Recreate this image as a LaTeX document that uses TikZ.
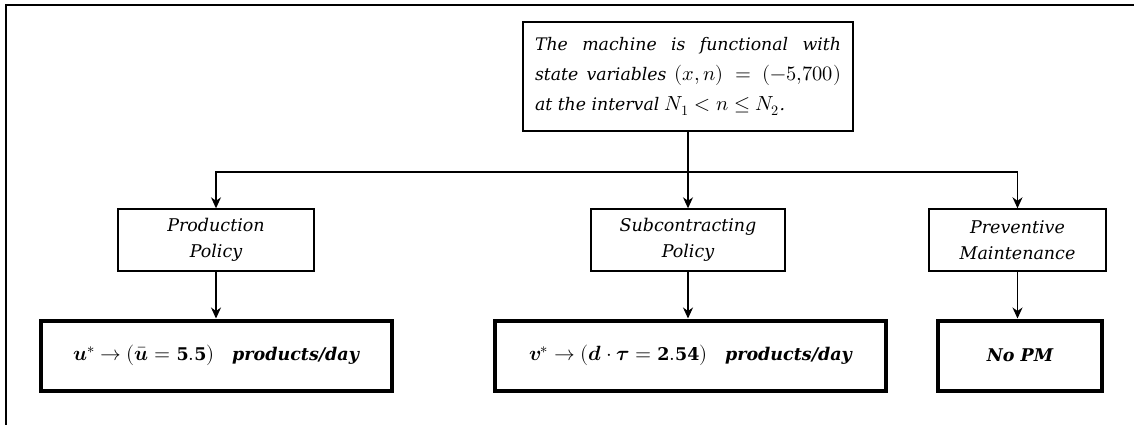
\documentclass[tikz,border=0pt]{standalone}
\usepackage{fontspec}
\usepackage{unicode-math}
\setmainfont{DejaVu Serif}
\setmathfont{Latin Modern Math}[Scale=1.18]
\usetikzlibrary{arrows.meta}
\begin{document}
\begin{tikzpicture}[x=1pt,y=-1pt,
  conn/.style={line width=1.3pt,-{Stealth[length=11pt,width=10pt,inset=3.5pt]}},
  topbox/.style={draw,line width=2.6pt,minimum width=330pt,minimum height=109pt,inner sep=0pt,font=\fontsize{17}{30}\selectfont\itshape},
  polbox/.style={draw,line width=1.4pt,minimum height=62pt,inner sep=0pt,align=center,font=\fontsize{17.5}{26}\selectfont\itshape},
  resbox/.style={draw,line width=4pt,minimum height=70pt,inner sep=0pt,font=\fontsize{17.5}{24}\selectfont\bfseries\itshape}]
\useasboundingbox (0,0) rectangle (1134,425);
\draw[line width=2pt] (6,425) -- (6,5) -- (1134,5);
\node[topbox] (top) at (688,76.5) {\parbox{306pt}{\fontsize{17.3}{30}\selectfont\itshape The machine is functional with\linebreak state variables $(x,n)=(-5{,}700)$\linebreak at the interval $N_1<n\le N_2$.}};
\node[polbox,minimum width=196pt] (prod) at (216,240) {Production\\Policy};
\node[polbox,minimum width=194pt] (sub) at (688,240) {Subcontracting\\Policy};
\node[polbox,minimum width=177pt] (prev) at (1017.5,240) {Preventive\\Maintenance};
\node[resbox,minimum width=351pt] (r1) at (216,355.5) {$\mathbfit{u}^{*}\rightarrow(\bar{\mathbfit{u}}=\mathbf{5.5})$\quad products/day};
\node[resbox,minimum width=391pt] (r2) at (690.5,355.5) {$\mathbfit{v}^{*}\rightarrow(\mathbfit{d}\cdot\mathbfit{\tau}=\mathbf{2.54})$\quad products/day};
\node[resbox,minimum width=164pt] (r3) at (1020,355.5) {No PM};
\coordinate (j) at (688,172);
\draw[conn] (top.south) -- (sub.north);
\draw[conn] (j) -| (prod.north);
\draw[conn] (j) -| (prev.north);
\draw[conn] (prod.south) -- (prod.south |- r1.north);
\draw[conn] (sub.south) -- (sub.south |- r2.north);
\draw[conn] (prev.south) -- (prev.south |- r3.north);
\end{tikzpicture}
\end{document}
